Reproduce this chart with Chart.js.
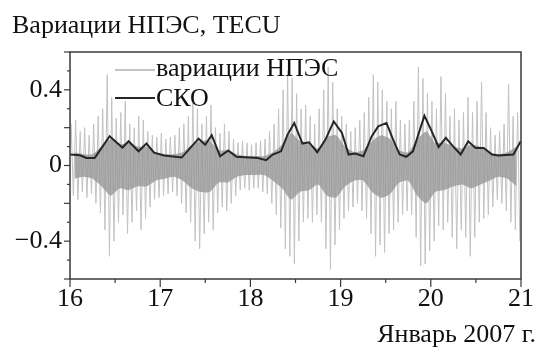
<!DOCTYPE html>
<html><head><meta charset="utf-8">
<script src="https://cdn.jsdelivr.net/npm/chart.js@4.4.0/dist/chart.umd.min.js"></script>
<style>html,body{margin:0;padding:0;background:#fff;}#wrap{width:539px;height:347px;}</style>
</head><body><div id="wrap"><canvas id="c" width="539" height="347"></canvas></div>
<script>
const titleText = 'Вариации НПЭС, TECU';
const xCaption = 'Январь 2007 г.';
const seriesNames = ['вариации НПЭС', 'СКО'];
const xTickLabels = ['16','17','18','19','20','21'];
const yTickLabels = {'-0.4':'−0.4','0':'0','0.4':'0.4'};

// СКО curve (day of January 2007, TECU)
const skoDays = [16.000,16.110,16.183,16.274,16.439,16.581,16.650,16.760,16.848,16.932,17.042,17.239,17.425,17.499,17.571,17.663,17.754,17.845,18.083,18.174,18.248,18.339,18.412,18.486,18.577,18.650,18.741,18.832,18.924,19.015,19.089,19.161,19.253,19.344,19.417,19.509,19.582,19.655,19.728,19.802,19.929,20.002,20.086,20.167,20.240,20.331,20.415,20.496,20.587,20.679,20.750,20.916,20.997];
const skoValues = [0.058,0.054,0.040,0.040,0.155,0.095,0.128,0.075,0.116,0.068,0.053,0.042,0.142,0.110,0.160,0.049,0.079,0.046,0.040,0.028,0.058,0.075,0.163,0.225,0.116,0.123,0.070,0.137,0.233,0.172,0.058,0.063,0.049,0.154,0.207,0.225,0.137,0.058,0.046,0.075,0.263,0.190,0.098,0.146,0.105,0.058,0.128,0.093,0.093,0.058,0.053,0.058,0.128];

// variations: spike envelope per 0.05-day slot
const spikeHigh = [0.22,0.24,0.18,0.20,0.16,0.22,0.26,0.30,0.48,0.36,
0.25,0.28,0.34,0.22,0.20,0.26,0.24,0.18,0.16,0.15,
0.17,0.14,0.15,0.16,0.20,0.22,0.26,0.33,0.30,0.22,
0.26,0.32,0.20,0.17,0.22,0.18,0.14,0.12,0.13,0.12,
0.11,0.12,0.13,0.14,0.18,0.22,0.30,0.40,0.50,0.46,
0.38,0.30,0.32,0.26,0.22,0.30,0.40,0.52,0.44,0.30,
0.26,0.22,0.18,0.20,0.24,0.28,0.36,0.48,0.44,0.40,
0.34,0.30,0.34,0.24,0.22,0.24,0.34,0.52,0.46,0.38,
0.34,0.30,0.47,0.38,0.26,0.30,0.24,0.28,0.36,0.28,
0.34,0.44,0.28,0.20,0.16,0.18,0.22,0.43,0.26,0.28];
const spikeLow = [-0.16,-0.18,-0.14,-0.17,-0.15,-0.20,-0.25,-0.34,-0.48,-0.40,
-0.30,-0.26,-0.36,-0.30,-0.24,-0.34,-0.28,-0.22,-0.18,-0.17,
-0.16,-0.15,-0.14,-0.16,-0.20,-0.25,-0.30,-0.40,-0.44,-0.36,
-0.30,-0.34,-0.25,-0.22,-0.24,-0.20,-0.16,-0.13,-0.12,-0.13,
-0.12,-0.12,-0.14,-0.15,-0.20,-0.26,-0.33,-0.44,-0.48,-0.52,
-0.40,-0.30,-0.28,-0.30,-0.26,-0.30,-0.44,-0.55,-0.42,-0.34,
-0.28,-0.24,-0.22,-0.20,-0.24,-0.28,-0.36,-0.48,-0.42,-0.46,
-0.36,-0.34,-0.30,-0.26,-0.24,-0.26,-0.38,-0.53,-0.52,-0.45,
-0.40,-0.32,-0.34,-0.30,-0.38,-0.44,-0.34,-0.38,-0.48,-0.38,
-0.30,-0.28,-0.26,-0.22,-0.18,-0.20,-0.24,-0.30,-0.34,-0.40];
// dense core band per 0.1-day slot
const coreHigh = [0.07,0.06,0.06,0.10,0.14,0.11,0.12,0.10,0.10,0.07,
0.06,0.06,0.07,0.11,0.13,0.13,0.08,0.08,0.06,0.05,
0.05,0.05,0.07,0.11,0.17,0.13,0.12,0.09,0.15,0.16,
0.10,0.07,0.08,0.13,0.16,0.14,0.08,0.07,0.14,0.18,
0.12,0.12,0.10,0.09,0.11,0.10,0.07,0.06,0.07,0.10];
const coreLow = [-0.07,-0.06,-0.07,-0.11,-0.16,-0.12,-0.13,-0.11,-0.11,-0.08,
-0.07,-0.06,-0.08,-0.12,-0.14,-0.14,-0.09,-0.09,-0.06,-0.05,
-0.05,-0.05,-0.08,-0.12,-0.18,-0.14,-0.13,-0.10,-0.16,-0.17,
-0.11,-0.08,-0.08,-0.14,-0.17,-0.15,-0.09,-0.08,-0.16,-0.20,
-0.14,-0.13,-0.11,-0.10,-0.12,-0.10,-0.08,-0.06,-0.07,-0.11];

const spikeTimes = spikeHigh.map((_, i) => 16.025 + 0.05 * i);
const coreTimes = coreHigh.map((_, i) => 16.05 + 0.1 * i);

// spike trace: goes to each slot's upper extreme, then its lower extreme
const spikePoints = [];
spikeTimes.forEach((t, i) => {
  spikePoints.push({x: t - 0.0125, y: spikeHigh[i]});
  spikePoints.push({x: t + 0.0125, y: spikeLow[i]});
});

const FONT = 'Liberation Serif';
const GRAY_LIGHT = '#c2c2c2';
const GRAY_CORE = 'rgba(150,150,150,0.78)';
const DARK = '#262626';

const decor = {
  id: 'decor',
  afterDatasetsDraw(chart) {
    const {ctx, chartArea: a, scales: {x, y}} = chart;
    ctx.save();
    ctx.strokeStyle = '#3a3a3a';
    ctx.lineWidth = 1.5;
    ctx.strokeRect(a.left, a.top, a.right - a.left, a.bottom - a.top);
    ctx.lineWidth = 1.2;
    y.ticks.forEach(t => {
      const py = y.getPixelForValue(t.value);
      const major = Math.abs(Math.round(t.value * 10)) % 2 === 0;
      ctx.beginPath(); ctx.moveTo(a.left, py); ctx.lineTo(a.left - (major ? 6 : 3), py); ctx.stroke();
    });
    x.ticks.forEach(t => {
      const px = x.getPixelForValue(t.value);
      const major = Math.abs(t.value - Math.round(t.value)) < 1e-6;
      ctx.beginPath(); ctx.moveTo(px, a.bottom); ctx.lineTo(px, a.bottom + (major ? 8 : 4)); ctx.stroke();
    });
    // legend
    ctx.lineWidth = 1.5; ctx.strokeStyle = '#b0b0b0';
    ctx.beginPath(); ctx.moveTo(115, 70); ctx.lineTo(155, 70); ctx.stroke();
    ctx.lineWidth = 2; ctx.strokeStyle = DARK;
    ctx.beginPath(); ctx.moveTo(115, 98); ctx.lineTo(155, 98); ctx.stroke();
    ctx.fillStyle = '#111';
    ctx.font = '26px "' + FONT + '"';
    ctx.textBaseline = 'alphabetic'; ctx.textAlign = 'left';
    ctx.fillText(seriesNames[0], 156, 76);
    ctx.fillText(seriesNames[1], 156, 106);
    // title & caption
    ctx.fillText(titleText, 12, 33);
    ctx.textAlign = 'right';
    ctx.fillText(xCaption, 536, 342);
    ctx.restore();
  }
};

new Chart(document.getElementById('c'), {
  type: 'line',
  data: {
    datasets: [
      {
        label: seriesNames[1], order: 0,
        data: skoDays.map((d, i) => ({x: d, y: skoValues[i]})),
        borderColor: DARK, borderWidth: 2, pointRadius: 0, tension: 0, fill: false
      },
      {
        label: 'coreHigh', order: 1,
        data: coreTimes.map((d, i) => ({x: d, y: coreHigh[i]})),
        borderColor: 'rgba(0,0,0,0)', borderWidth: 0, pointRadius: 0, tension: 0.2,
        backgroundColor: GRAY_CORE, fill: '+1'
      },
      {
        label: 'coreLow', order: 2,
        data: coreTimes.map((d, i) => ({x: d, y: coreLow[i]})),
        borderColor: 'rgba(0,0,0,0)', borderWidth: 0, pointRadius: 0, tension: 0.2, fill: false
      },
      {
        label: seriesNames[0], order: 3,
        data: spikePoints,
        borderColor: GRAY_LIGHT, borderWidth: 1, pointRadius: 0, tension: 0, fill: false
      }
    ]
  },
  options: {
    responsive: false, animation: false, devicePixelRatio: 1,
    layout: {padding: {left: 0, right: 13, top: 52, bottom: 0}},
    plugins: {legend: {display: false}, tooltip: {enabled: false}, title: {display: false}},
    scales: {
      x: {
        type: 'linear', min: 16, max: 21, offset: false,
        grid: {display: false, drawTicks: false}, border: {display: false},
        ticks: {
          stepSize: 0.5, autoSkip: false, maxRotation: 0, padding: 5,
          color: '#111', font: {family: FONT, size: 26},
          callback: v => { const r = Math.round(v); return Math.abs(v - r) < 1e-6 ? xTickLabels[r - 16] : ''; }
        },
        afterFit: s => { s.height = 68; }
      },
      y: {
        type: 'linear', min: -0.6, max: 0.6,
        grid: {display: false, drawTicks: false}, border: {display: false},
        ticks: {
          stepSize: 0.1, autoSkip: false, padding: 8,
          color: '#111', font: {family: FONT, size: 26},
          callback: v => { const k = String(Math.round(v * 10) / 10); return yTickLabels[k] !== undefined ? yTickLabels[k] : ''; }
        },
        afterFit: s => { s.width = 70; }
      }
    }
  },
  plugins: [decor]
});
</script>
</body></html>
